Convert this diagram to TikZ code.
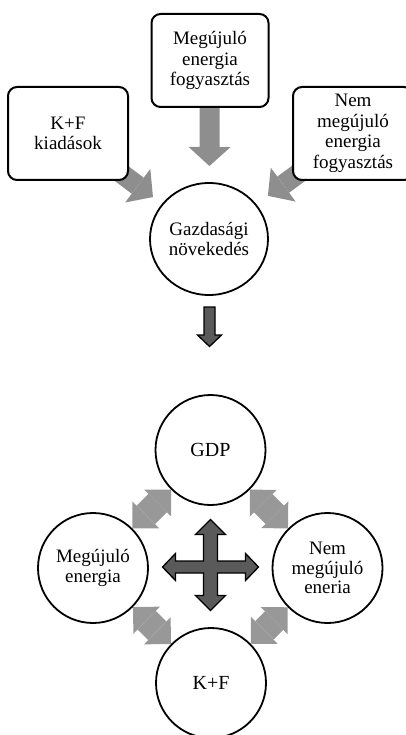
\documentclass[tikz,border=0pt]{standalone}
\usepackage{fontspec}
\setmainfont{Liberation Serif}
\usetikzlibrary{arrows.meta,shapes.geometric,backgrounds,calc}
\definecolor{lgray}{RGB}{142,142,142}
\definecolor{lgraytwo}{RGB}{152,152,152}
\definecolor{dgray}{RGB}{90,90,90}
\begin{document}
\begin{tikzpicture}[x=1pt,y=-1pt,
  box/.style={draw, line width=2pt, rounded corners=9pt, fill=white,
    minimum width=117pt, minimum height=93pt, align=center,
    font=\fontsize{19}{20.5}\selectfont, inner sep=0pt},
  rnd/.style={circle, draw, line width=1.8pt, fill=white, minimum size=110pt,
    align=center, font=\fontsize{19}{19.3}\selectfont, inner sep=0pt},
  feed/.style={line width=20pt, draw=lgray,
    -{Triangle[width=42pt,length=19pt,line width=0pt]}},
  link/.style={line width=26pt, draw=lgraytwo,
    {Triangle[width=38pt,length=19pt,line width=0pt]}-{Triangle[width=38pt,length=19pt,line width=0pt]}},
  darkarrow/.style={fill=dgray, draw=black, line width=1.3pt, line join=miter}
  ]
\useasboundingbox (0,0) rectangle (406,735);
\clip (0,0) rectangle (406,735);

% top part
\node[box, minimum width=117pt] (mid) at (210,60.5) {Megújuló\\energia\\fogyasztás};
\node[box, minimum width=120pt] (kf) at (68,133.5) {K+F\\kiadások};
\node[box, minimum width=120pt] (nem) at (353,133.5) {Nem\\megújuló\\energia\\fogyasztás};
\node[ellipse, draw, line width=1.8pt, fill=white, minimum width=118pt,
  minimum height=112pt, align=center, inner sep=0pt,
  font=\fontsize{19}{20.5}\selectfont] (gn) at (209,239) {Gazdasági\\növekedés};

\begin{scope}[on background layer]
  \draw[feed, shorten >=70pt] (kf.center) -- (gn.center);
  \draw[feed, shorten >=73pt] (mid.center) -- (gn.center);
  \draw[feed, shorten >=73pt] (nem.center) -- (gn.center);
\end{scope}

% down arrow
\begin{scope}[shift={(209.5,307)}]
  \filldraw[darkarrow] (-5.5,0) -- (5.5,0) -- (5.5,28) -- (12,28) -- (0,39.5)
    -- (-12,28) -- (-5.5,28) -- cycle;
\end{scope}

% bottom part
\node[rnd, font=\fontsize{20}{21}\selectfont] (gdp) at (210.5,450) {GDP};
\node[rnd] (meg) at (93,568) {Megújuló\\energia};
\node[rnd] (nemc) at (327.5,568) {Nem\\megújuló\\eneria};
\node[rnd, font=\fontsize{20}{21}\selectfont] (kfb) at (211,683) {K+F};

\draw[link] (meg) -- (gdp);
\draw[link] (gdp) -- (nemc);
\draw[link] (meg) -- (kfb);
\draw[link] (nemc) -- (kfb);

% central cross
\begin{scope}[shift={(210.5,567)}]
  \filldraw[darkarrow] (0,-47.5) -- (15,-32.5) -- (7,-32.5) -- (7,-6) -- (35,-6)
    -- (35,-13.5) -- (48,0) -- (35,13.5) -- (35,6) -- (7,6) -- (7,28.5)
    -- (15,28.5) -- (0,43.5) -- (-15,28.5) -- (-7,28.5) -- (-7,6) -- (-35,6)
    -- (-35,13.5) -- (-48,0) -- (-35,-13.5) -- (-35,-6) -- (-7,-6)
    -- (-7,-32.5) -- (-15,-32.5) -- cycle;
\end{scope}
\end{tikzpicture}
\end{document}
